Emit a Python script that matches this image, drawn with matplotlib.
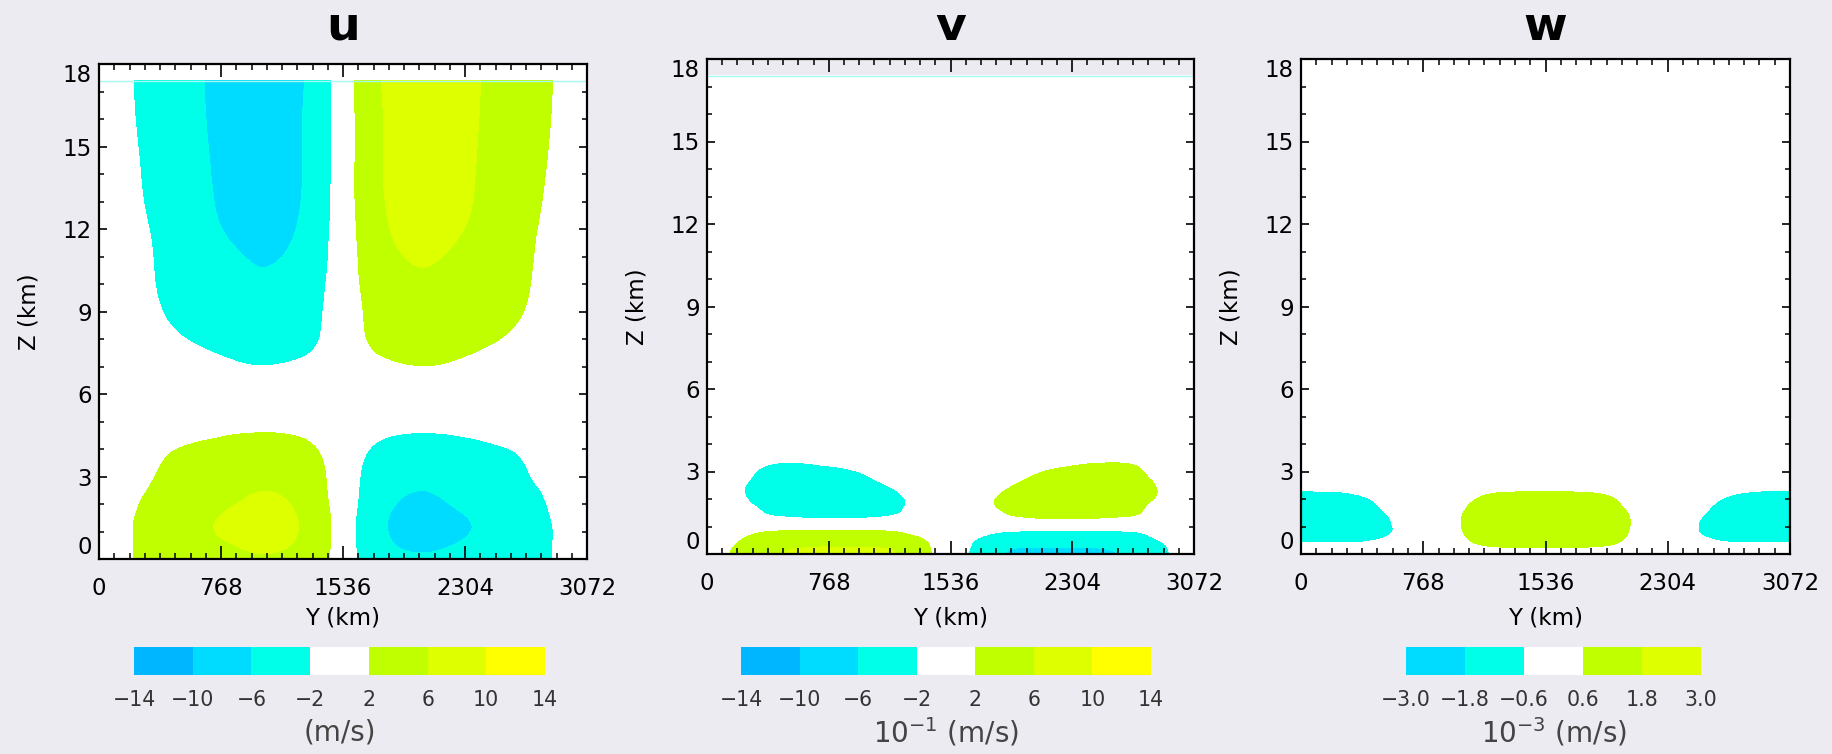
import numpy as np
import matplotlib
matplotlib.use('Agg')
import matplotlib.pyplot as plt
import matplotlib.tri as mtri
from matplotlib.ticker import MultipleLocator

plt.rcParams['font.family'] = ['DejaVu Sans']

# grid (Y in km, Z in km)
y_km = [0, 192, 384, 576, 768, 960, 1152, 1344, 1536,
        1728, 1920, 2112, 2304, 2496, 2688, 2880, 3072]

u_z = [0, 0.5, 1.2, 2, 3, 4, 5, 6, 7, 8, 9, 10.5, 12, 14, 17.4]
u_val = [
    [1.0, 1.85, 3.0, 4.1, 5.0, 5.6, 5.5, 4.0, 0, -4.0, -5.5, -5.6, -5.0, -4.1, -3.0, -1.85, -1.0],
    [1.0, 1.85, 3.2, 4.5, 5.6, 6.4, 6.3, 4.3, 0, -4.3, -6.3, -6.4, -5.6, -4.5, -3.2, -1.85, -1.0],
    [1.0, 1.85, 3.3, 4.9, 6.3, 7.2, 7.0, 4.6, 0, -4.6, -7.0, -7.2, -6.3, -4.9, -3.3, -1.85, -1.0],
    [0.8, 1.6, 3.0, 4.3, 5.4, 6.5, 6.4, 4.0, 0, -4.0, -6.4, -6.5, -5.4, -4.3, -3.0, -1.6, -0.8],
    [0.5, 1.3, 2.2, 3.6, 4.5, 5.2, 5.0, 3.3, 0, -3.3, -5.0, -5.2, -4.5, -3.6, -2.2, -1.3, -0.5],
    [0.3, 0.9, 1.6, 2.3, 2.9, 3.3, 3.2, 2.25, 0, -2.25, -3.2, -3.3, -2.9, -2.3, -1.6, -0.9, -0.3],
    [0.1, 0.3, 0.6, 0.9, 1.15, 1.35, 1.3, 0.9, 0, -0.9, -1.3, -1.35, -1.15, -0.9, -0.6, -0.3, -0.1],
    [0, 0, 0, 0.1, 0.2, 0.2, 0.2, 0.1, 0, -0.1, -0.2, -0.2, -0.2, -0.1, 0, 0, 0],
    [0, -0.2, -0.6, -1.0, -1.4, -1.9, -1.8, -1.2, 0, 1.2, 1.8, 1.9, 1.4, 1.0, 0.6, 0.2, 0],
    [-0.1, -0.5, -1.3, -2.1, -2.8, -3.3, -3.2, -2.4, 0, 2.4, 3.2, 3.3, 2.8, 2.1, 1.3, 0.5, 0.1],
    [-0.2, -0.8, -1.9, -3.0, -3.9, -4.6, -4.5, -2.9, 0, 2.9, 4.5, 4.6, 3.9, 3.0, 1.9, 0.8, 0.2],
    [-0.3, -1.0, -2.3, -3.7, -4.8, -5.8, -5.6, -3.6, 0, 3.6, 5.6, 5.8, 4.8, 3.7, 2.3, 1.0, 0.3],
    [-0.4, -1.2, -2.6, -4.4, -5.95, -7.1, -6.9, -4.3, 0, 4.3, 6.9, 7.1, 5.95, 4.4, 2.6, 1.2, 0.4],
    [-0.5, -1.5, -3.1, -5.0, -6.5, -7.9, -7.6, -4.8, 0, 4.8, 7.6, 7.9, 6.5, 5.0, 3.1, 1.5, 0.5],
    [-0.6, -1.8, -3.5, -5.3, -6.8, -8.3, -8.0, -5.0, 0, 5.0, 8.0, 8.3, 6.8, 5.3, 3.5, 1.8, 0.6],
]

v_z = [0, 0.2, 0.4, 0.8, 1.2, 1.6, 2.0, 2.4, 2.8, 3.2, 3.6, 4.5, 6, 17.4]
v_val = [
    [1.0, 2.4, 5.0, 6.6, 6.6, 6.5, 6.3, 3.3, 0, -3.3, -6.3, -6.5, -6.6, -6.6, -5.0, -2.4, -1.0],
    [0.8, 2.3, 4.6, 6.0, 6.3, 6.2, 5.9, 3.1, 0, -3.1, -5.9, -6.2, -6.3, -6.0, -4.6, -2.3, -0.8],
    [0.6, 2.0, 3.8, 4.8, 5.0, 4.9, 4.5, 2.7, 0, -2.7, -4.5, -4.9, -5.0, -4.8, -3.8, -2.0, -0.6],
    [0.2, 1.0, 2.1, 2.4, 2.5, 2.4, 2.2, 1.2, 0, -1.2, -2.2, -2.4, -2.5, -2.4, -2.1, -1.0, -0.2],
    [0, -0.3, -1.0, -1.2, -1.3, -1.3, -1.0, -0.4, 0, 0.4, 1.0, 1.3, 1.3, 1.2, 1.0, 0.3, 0],
    [-0.3, -1.2, -2.3, -3.0, -3.2, -3.0, -2.4, -1.3, 0, 1.3, 2.4, 3.0, 3.2, 3.0, 2.3, 1.2, 0.3],
    [-0.5, -1.6, -2.8, -3.7, -3.8, -3.4, -2.6, -1.4, 0, 1.4, 2.6, 3.4, 3.8, 3.7, 2.8, 1.6, 0.5],
    [-0.6, -1.7, -3.0, -3.8, -3.6, -3.0, -2.1, -0.8, 0, 0.8, 2.1, 3.0, 3.6, 3.8, 3.0, 1.7, 0.6],
    [-0.4, -1.4, -2.6, -3.2, -2.9, -2.3, -1.4, -0.5, 0, 0.5, 1.4, 2.3, 2.9, 3.2, 2.6, 1.4, 0.4],
    [-0.2, -0.9, -2.1, -2.3, -2.0, -1.6, -0.9, -0.3, 0, 0.3, 0.9, 1.6, 2.0, 2.3, 2.1, 0.9, 0.2],
    [0, -0.4, -1.0, -1.3, -1.2, -0.9, -0.5, -0.2, 0, 0.2, 0.5, 0.9, 1.2, 1.3, 1.0, 0.4, 0],
    [0, -0.1, -0.3, -0.4, -0.4, -0.3, -0.2, -0.1, 0, 0.1, 0.2, 0.3, 0.4, 0.4, 0.3, 0.1, 0],
    [0] * 17,
    [0] * 17,
]

w_z = [0, 0.2, 0.4, 0.7, 1.0, 1.3, 1.6, 2.0, 2.4, 2.8, 3.5, 5, 18]
w_val = [
    [0] * 17,
    [-0.3, -0.3, -0.28, -0.15, 0, 0.1, 0.4, 0.5, 0.5, 0.5, 0.4, 0.1, 0, -0.15, -0.28, -0.3, -0.3],
    [-0.57, -0.57, -0.55, -0.3, 0, 0.25, 0.75, 0.92, 0.95, 0.92, 0.75, 0.25, 0, -0.3, -0.55, -0.57, -0.57],
    [-1.0, -1.0, -0.95, -0.55, 0, 0.4, 0.98, 1.15, 1.18, 1.15, 0.98, 0.4, 0, -0.55, -0.95, -1.0, -1.0],
    [-1.2, -1.18, -1.08, -0.6, 0, 0.45, 1.05, 1.2, 1.22, 1.2, 1.05, 0.45, 0, -0.6, -1.08, -1.18, -1.2],
    [-1.2, -1.18, -1.05, -0.55, 0, 0.45, 1.05, 1.2, 1.22, 1.2, 1.05, 0.45, 0, -0.55, -1.05, -1.18, -1.2],
    [-1.1, -1.08, -0.92, -0.42, 0, 0.38, 0.95, 1.1, 1.12, 1.1, 0.95, 0.38, 0, -0.42, -0.92, -1.08, -1.1],
    [-0.9, -0.88, -0.7, -0.25, 0, 0.2, 0.72, 0.85, 0.88, 0.85, 0.72, 0.2, 0, -0.25, -0.7, -0.88, -0.9],
    [-0.5, -0.48, -0.35, -0.1, 0, 0.08, 0.35, 0.45, 0.47, 0.45, 0.35, 0.08, 0, -0.1, -0.35, -0.48, -0.5],
    [-0.25, -0.24, -0.18, -0.05, 0, 0, 0.12, 0.18, 0.2, 0.18, 0.12, 0, 0, -0.05, -0.18, -0.24, -0.25],
    [-0.05, -0.05, -0.04, -0.01, 0, 0, 0.03, 0.04, 0.05, 0.04, 0.03, 0, 0, -0.01, -0.04, -0.05, -0.05],
    [0] * 17,
    [0] * 17,
]

uv_levels = [-14, -10, -6, -2, 2, 6, 10, 14]
uv_labels = ['\u221214', '\u221210', '\u22126', '\u22122', '2', '6', '10', '14']
w_levels = [-3.0, -1.8, -0.6, 0.6, 1.8, 3.0]
w_labels = ['\u22123.0', '\u22121.8', '\u22120.6', '0.6', '1.8', '3.0']

uv_colors = ['#00b6ff', '#00dcff', '#00ffe8', '#ffffff', '#c0ff00', '#ddff00', '#ffff00']
w_colors = ['#00dcff', '#00ffe8', '#ffffff', '#c0ff00', '#ddff00']

bg = '#ebebf1'
W, H = 1832, 754


def smooth(yv, zv, vals):
    # triangulate the grid and let matplotlib refine it (cubic) for smooth contours
    ny, nz = len(yv), len(zv)
    Y, Z = np.meshgrid(np.asarray(yv) / 3072.0, np.asarray(zv) / 18.0)
    idx = np.arange(ny * nz).reshape(nz, ny)
    a = idx[:-1, :-1].ravel()
    b = idx[:-1, 1:].ravel()
    c = idx[1:, 1:].ravel()
    d = idx[1:, :-1].ravel()
    tris = np.vstack([np.column_stack([a, b, c]), np.column_stack([a, c, d])])
    tri = mtri.Triangulation(Y.ravel(), Z.ravel(), tris)
    fine, fv = mtri.UniformTriRefiner(tri).refine_field(
        np.asarray(vals, float).ravel(), subdiv=3)
    return mtri.Triangulation(fine.x * 3072, fine.y * 18, fine.triangles), fv


fig = plt.figure(figsize=(W / 100, H / 100), dpi=100, facecolor=bg)


def px_axes(x0, y0, x1, y1):
    return fig.add_axes([x0 / W, 1 - y1 / H, (x1 - x0) / W, (y1 - y0) / H])


panels = [
    dict(name='u', box=(99, 64, 587, 559), z=u_z, val=u_val, levels=uv_levels,
         colors=uv_colors, labels=uv_labels, cb=(134, 545), unit='(m/s)',
         face='white', topline=17.4),
    dict(name='v', box=(707, 59, 1194, 554), z=v_z, val=v_val, levels=uv_levels,
         colors=uv_colors, labels=uv_labels, cb=(741, 1151),
         unit='10$^{-1}$ (m/s)', face='none', topline=17.4),
    dict(name='w', box=(1301, 59, 1790, 554), z=w_z, val=w_val, levels=w_levels,
         colors=w_colors, labels=w_labels, cb=(1406, 1701),
         unit='10$^{-3}$ (m/s)', face='white', topline=None),
]

for p in panels:
    x0, y0, x1, y1 = p['box']
    ax = px_axes(x0, y0, x1, y1)
    ax.set_facecolor(p['face'])
    tri, fv = smooth(y_km, p['z'], p['val'])
    cs = ax.tricontourf(tri, fv, levels=p['levels'], colors=p['colors'])
    if p['topline'] is not None:
        ax.axhline(p['topline'], color='#a6f7f2', lw=1.0)

    ax.set_xlim(0, 3072)
    ax.set_ylim(0, 18)
    ax.set_xticks([0, 768, 1536, 2304, 3072])
    ax.set_yticks([0, 3, 6, 9, 12, 15, 18])
    ax.xaxis.set_minor_locator(MultipleLocator(96))
    ax.yaxis.set_minor_locator(MultipleLocator(1))
    ax.tick_params(axis='x', which='major', direction='in', length=9.5, width=1.2,
                   top=True, bottom=True, pad=13, labelsize=16.5)
    ax.tick_params(axis='x', which='minor', direction='in', length=4.5, width=1.1,
                   top=True, bottom=True)
    ax.tick_params(axis='y', which='major', direction='in', length=6, width=1.2,
                   left=True, right=True, pad=5, labelsize=16.5)
    ax.tick_params(axis='y', which='minor', direction='in', length=3.5, width=1.1,
                   left=True, right=True)
    for s in ax.spines.values():
        s.set_linewidth(1.6)
    yt = ax.yaxis.get_major_ticks()
    yt[0].label1.set_va('bottom')
    yt[-1].label1.set_va('top')

    h = y1 - y0
    ax.set_xlabel('Y (km)', fontsize=16.5)
    ax.xaxis.set_label_coords(0.5, -(618 - y1) / h)
    ax.xaxis.label.set_va('center')
    ax.set_ylabel('Z (km)', fontsize=16.5)
    ax.yaxis.set_label_coords(-70 / (x1 - x0), 0.5)
    ax.yaxis.label.set_va('center')

    fig.text((x0 + x1) / 2 / W, 1 - 27.5 / H, p['name'], ha='center', va='center',
             fontsize=34, fontweight='bold')

    c0, c1 = p['cb']
    cax = px_axes(c0, 647, c1, 675)
    cb = fig.colorbar(cs, cax=cax, orientation='horizontal', ticks=p['levels'])
    cb.outline.set_visible(False)
    cb.set_ticklabels(p['labels'])
    cax.tick_params(length=0, pad=11, labelsize=14.8, labelcolor='#333333')
    fig.text((c0 + c1) / 2 / W, 1 - 732 / H, p['unit'], ha='center', va='center',
             fontsize=20, color='#444444')

fig.savefig('out.png', dpi=100, facecolor=bg)
